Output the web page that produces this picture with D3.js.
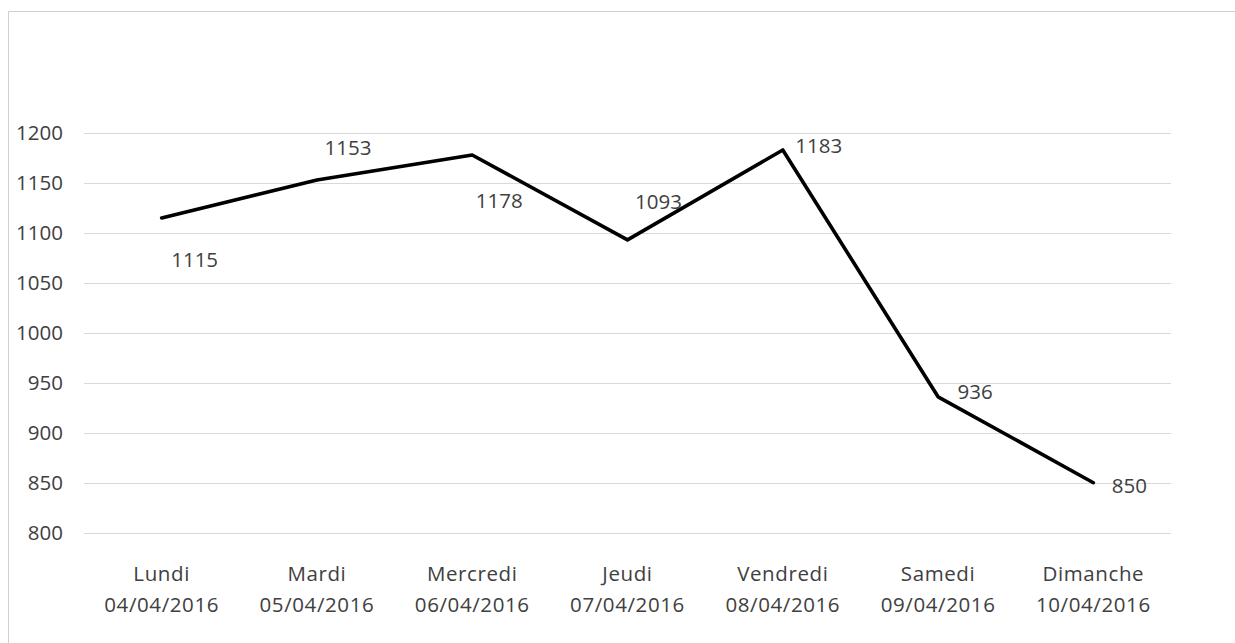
<!DOCTYPE html>
<html>
<head>
<meta charset="utf-8">
<script src="https://cdn.jsdelivr.net/npm/d3@7"></script>
<style>
  html, body { margin: 0; padding: 0; background: #fff; }
  svg { display: block; }
  text { font-family: "Open Sans", "Noto Sans", sans-serif; fill: #404040; }
</style>
</head>
<body>
<svg id="chart" width="1235" height="643"></svg>
<script>
// ---- data ----
const dayNames = ["Lundi", "Mardi", "Mercredi", "Jeudi", "Vendredi", "Samedi", "Dimanche"];
const dates = ["04/04/2016", "05/04/2016", "06/04/2016", "07/04/2016", "08/04/2016", "09/04/2016", "10/04/2016"];
const values = [1115, 1153, 1178, 1093, 1183, 936, 850];
const yTicks = [800, 850, 900, 950, 1000, 1050, 1100, 1150, 1200];

// label nudges (layout, not data): offset of each value label from its point
const labelNudges = [[33, 41], [31, -33], [27, 45], [31, -39], [36, -5], [37, -6], [36, 2]];

// ---- layout ----
const svg = d3.select("#chart");
const plot = { left: 84, right: 1171, top: 133, bottom: 532.7 };
const fontSize = "20.5px";

// chart frame
svg.append("path")
  .attr("d", `M8.5,643 L8.5,11.5 L1235,11.5`)
  .attr("fill", "none")
  .attr("stroke", "#d0d0d0")
  .attr("stroke-width", 1);

const x = d3.scaleBand().domain(dayNames).range([plot.left, plot.right]).paddingInner(0).paddingOuter(0);
const y = d3.scaleLinear().domain([800, 1200]).range([plot.bottom, plot.top]);

// gridlines
svg.append("g").selectAll("line").data(yTicks).join("line")
  .attr("x1", plot.left).attr("x2", plot.right)
  .attr("y1", d => Math.round(y(d)) + 0.5).attr("y2", d => Math.round(y(d)) + 0.5)
  .attr("stroke", "#d9d9d9").attr("stroke-width", 1);

// y axis labels
const yAxis = d3.axisLeft(y).tickValues(yTicks).tickFormat(d3.format("d")).tickSize(0).tickPadding(21);
const gy = svg.append("g").attr("transform", `translate(${plot.left},0)`).call(yAxis);
gy.select(".domain").remove();
gy.selectAll("text")
  .style("font-family", '"Open Sans", sans-serif')
  .style("font-size", fontSize)
  .attr("fill", "#404040");

// x axis labels (two lines)
const xAxis = d3.axisBottom(x).tickSize(0).tickFormat("");
const gx = svg.append("g").attr("transform", `translate(0,${plot.bottom})`).call(xAxis);
gx.select(".domain").remove();
gx.selectAll(".tick").each(function(d, i) {
  const t = d3.select(this).append("text")
    .attr("text-anchor", "middle")
    .style("font-size", fontSize)
    .style("letter-spacing", "0.6px")
    .attr("fill", "#404040");
  t.append("tspan").attr("x", 0).attr("y", 573 - plot.bottom).attr("dominant-baseline", "central").text(dayNames[i]);
  t.append("tspan").attr("x", 0).attr("y", 604 - plot.bottom).attr("dominant-baseline", "central").text(dates[i]);
});

// line
const cx = d => x(d) + x.bandwidth() / 2;
const line = d3.line()
  .x((d, i) => cx(dayNames[i]))
  .y(d => y(d));
svg.append("path")
  .datum(values)
  .attr("d", line)
  .attr("fill", "none")
  .attr("stroke", "#000")
  .attr("stroke-width", 3.6)
  .attr("stroke-linejoin", "round")
  .attr("stroke-linecap", "round");

// value labels
svg.append("g").selectAll("text").data(values).join("text")
  .attr("x", (d, i) => cx(dayNames[i]) + labelNudges[i][0])
  .attr("y", (d, i) => y(d) + labelNudges[i][1])
  .attr("text-anchor", "middle")
  .attr("dominant-baseline", "central")
  .style("font-size", fontSize)
  .attr("fill", "#404040")
  .text(d => d);
</script>
</body>
</html>
